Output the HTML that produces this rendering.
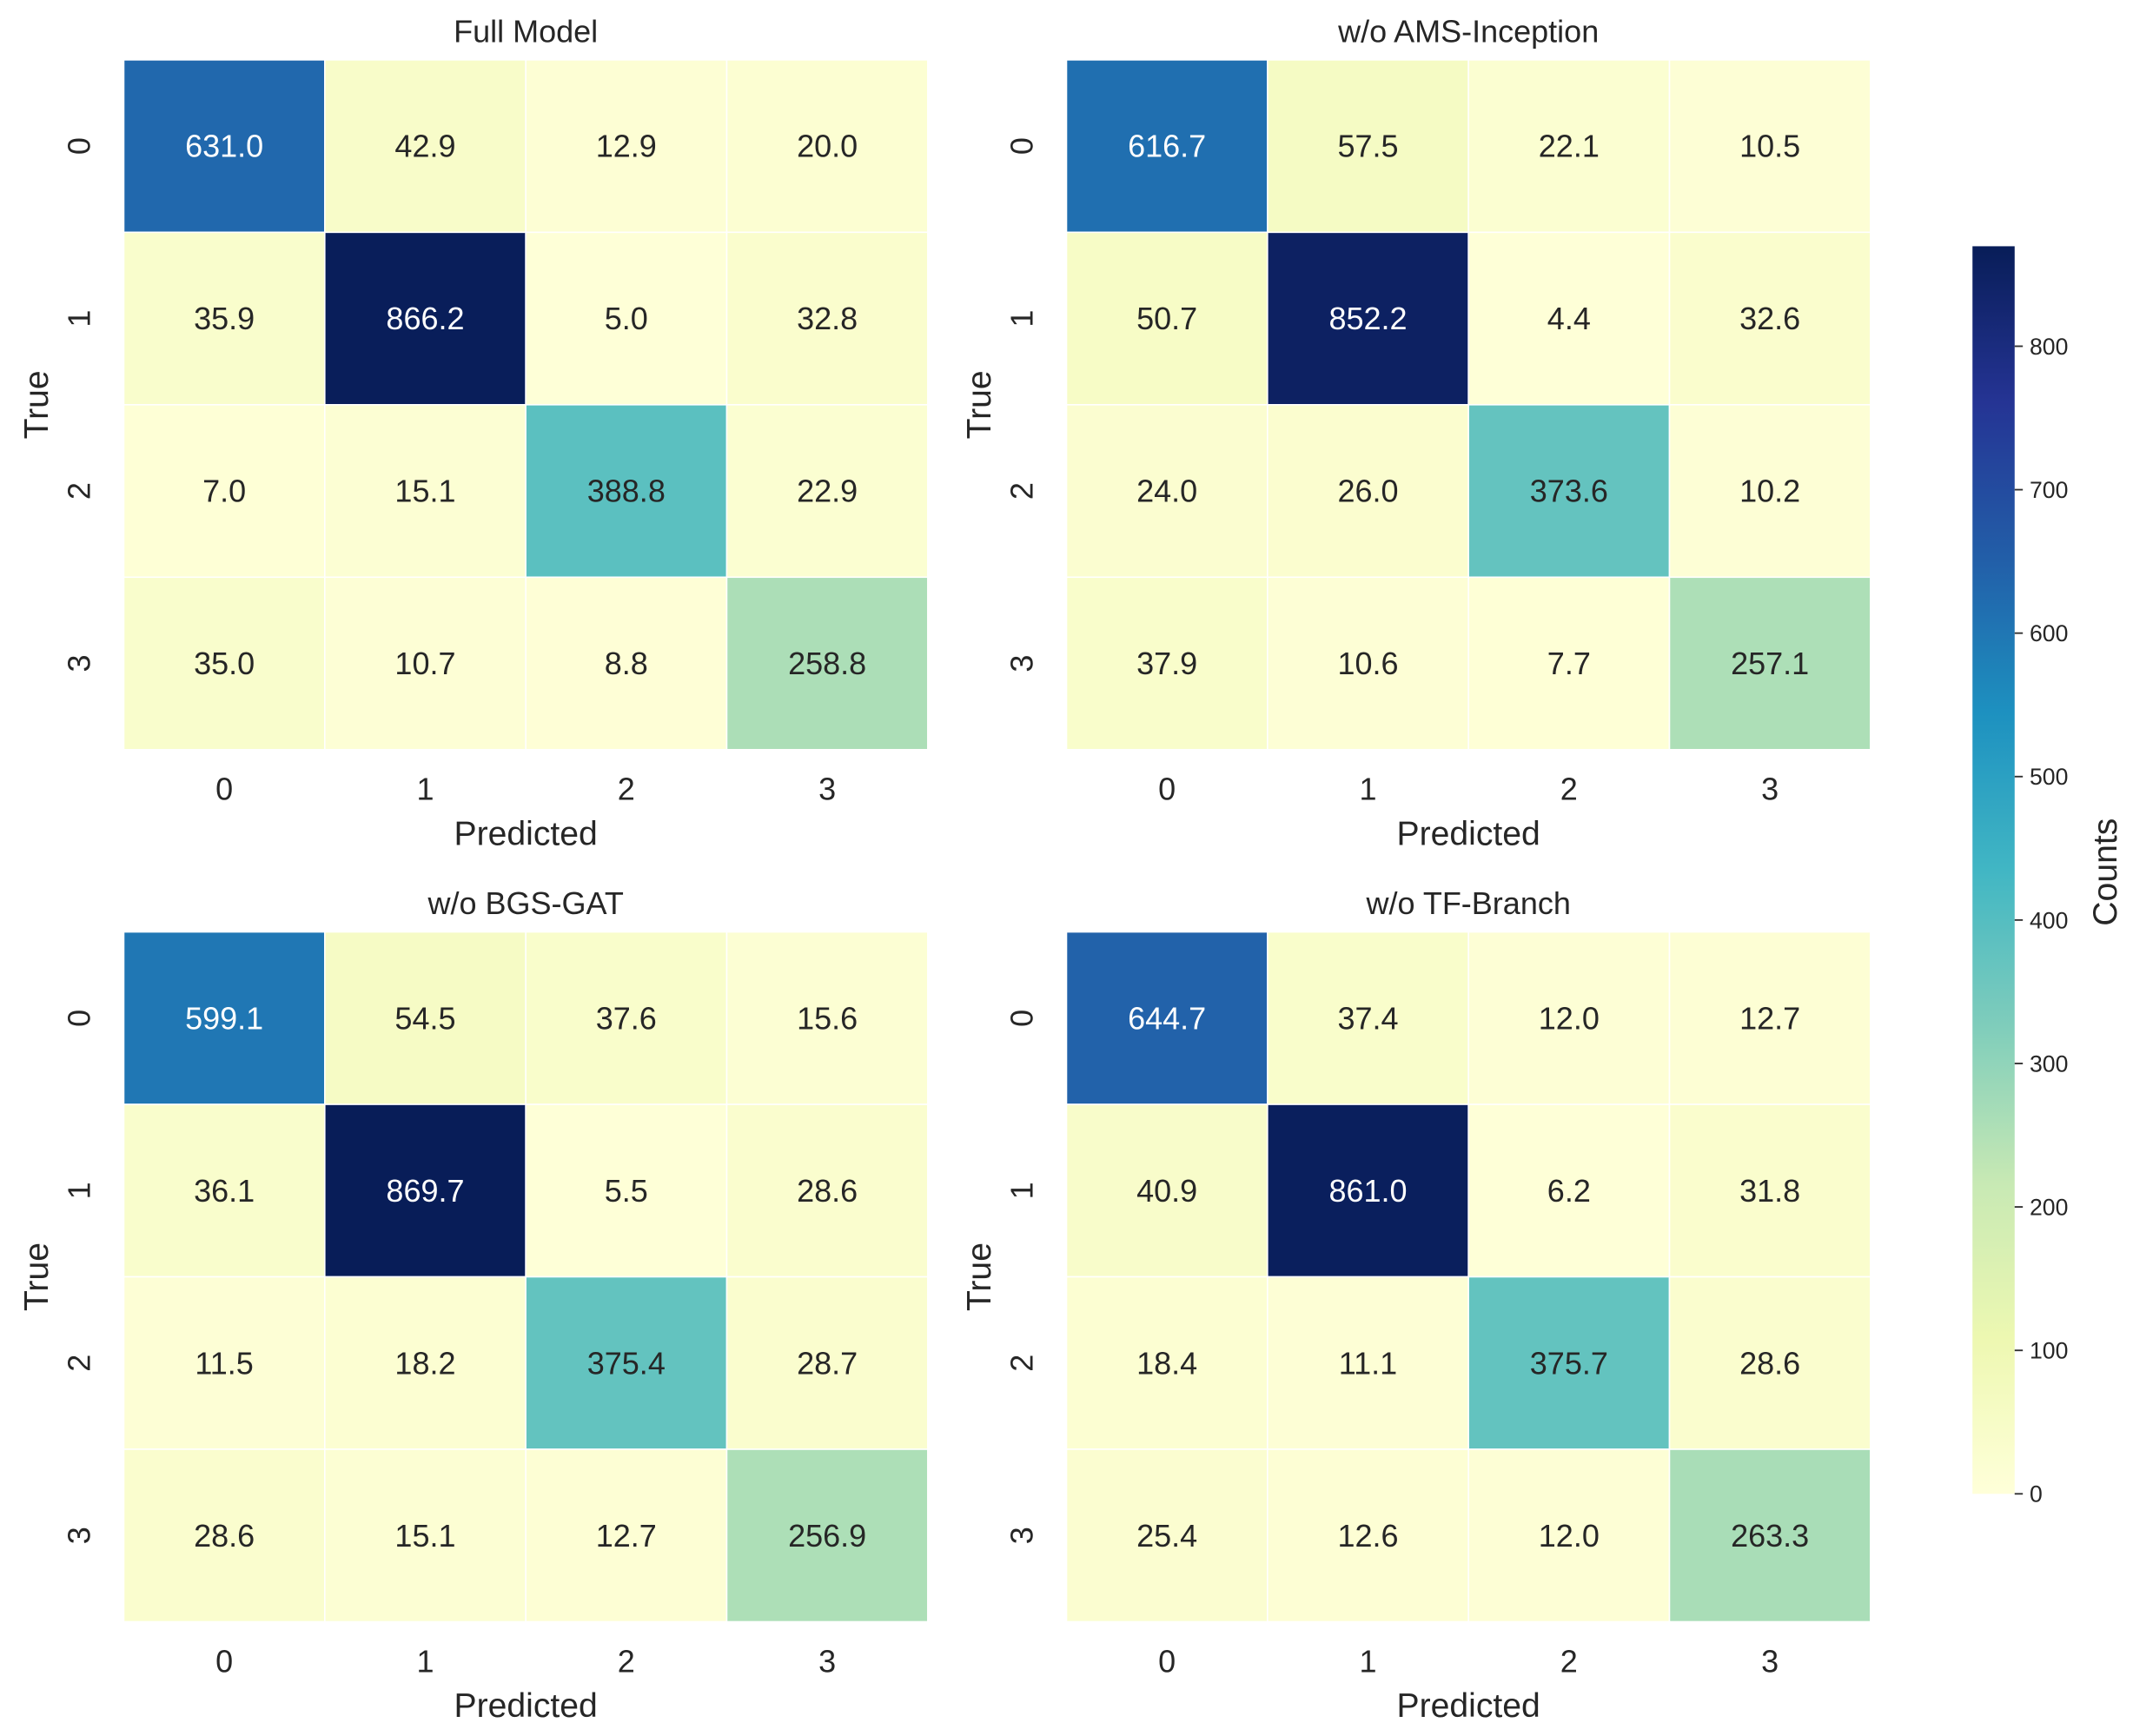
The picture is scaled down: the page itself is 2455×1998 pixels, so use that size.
<!DOCTYPE html>
<html><head><meta charset="utf-8">
<style>html,body{margin:0;padding:0;background:#fff}svg{display:block}text{font-family:"Liberation Sans",sans-serif}</style>
</head><body>
<svg id="fig" xmlns="http://www.w3.org/2000/svg" width="2455" height="1998" viewBox="0 0 1568 1276" preserveAspectRatio="none">
<defs><linearGradient id="cbgrad" x1="0" y1="1" x2="0" y2="0"></linearGradient></defs>
</svg>
<script>
const classes = [0, 1, 2, 3];
const titles = ["Full Model", "w/o AMS-Inception", "w/o BGS-GAT", "w/o TF-Branch"];
const fullModel = [[631.0,42.9,12.9,20.0],[35.9,866.2,5.0,32.8],[7.0,15.1,388.8,22.9],[35.0,10.7,8.8,258.8]];
const woAMS = [[616.7,57.5,22.1,10.5],[50.7,852.2,4.4,32.6],[24.0,26.0,373.6,10.2],[37.9,10.6,7.7,257.1]];
const woBGS = [[599.1,54.5,37.6,15.6],[36.1,869.7,5.5,28.6],[11.5,18.2,375.4,28.7],[28.6,15.1,12.7,256.9]];
const woTF = [[644.7,37.4,12.0,12.7],[40.9,861.0,6.2,31.8],[18.4,11.1,375.7,28.6],[25.4,12.6,12.0,263.3]];
const cbTicks = [0,100,200,300,400,500,600,700,800];
const vmin = 0, vmax = 869.7;

const NS = "http://www.w3.org/2000/svg";
const svg = document.getElementById("fig");
const stops = ["#ffffd9","#edf8b1","#c7e9b4","#7fcdbb","#41b6c4","#1d91c0","#225ea8","#253494","#081d58"];
function hex(h){return [parseInt(h.substr(1,2),16),parseInt(h.substr(3,2),16),parseInt(h.substr(5,2),16)];}
function cmap(v){
  let t=Math.max(0,Math.min(1,(v-vmin)/(vmax-vmin)))*(stops.length-1);
  let i=Math.min(stops.length-2,Math.floor(t)), f=t-i;
  const a=hex(stops[i]), b=hex(stops[i+1]);
  return a.map((x,k)=>Math.round(x+(b[k]-x)*f));
}
function lum(c){const l=c.map(x=>{x/=255;return x<=0.03928?x/12.92:Math.pow((x+0.055)/1.055,2.4);});return 0.2126*l[0]+0.7152*l[1]+0.0722*l[2];}
function mk(tag,attrs,parent){const e=document.createElementNS(NS,tag);for(const k in attrs)e.setAttribute(k,attrs[k]);(parent||svg).appendChild(e);return e;}

const matrices=[fullModel,woAMS,woBGS,woTF];
const panelX=[91,784,91,784], panelY=[44,44,685,685];
const W=591, H=507;
matrices.forEach((m,p)=>{
  const g=mk("g",{});
  
  
  const x0=panelX[p], y0=panelY[p], cw=W/classes.length, ch=H/classes.length;
  const xs=j=>x0+j*cw, ys=i=>y0+i*ch;
  const t=mk("text",{x:x0+W/2,y:y0-13,"text-anchor":"middle","font-size":"23",fill:"#262626"},g);
  t.textContent=titles[p];
  
  
  m.forEach((row,i)=>row.forEach((v,j)=>{
    const c=cmap(v);
    const r=mk("rect",{x:xs(j),y:ys(i),width:cw,height:ch,fill:`rgb(${c})`,stroke:"#fff","stroke-width":"1"},g);
    
    
    const tx=mk("text",{x:xs(j)+cw/2,y:ys(i)+ch/2+8,"text-anchor":"middle","font-size":"23",fill:lum(c)<0.408?"#fff":"#262626"},g);
    tx.textContent=v.toFixed(1);
    
    
  }));
  classes.forEach((c,k)=>{
    const a=mk("text",{x:xs(k)+cw/2,y:y0+H+37,"text-anchor":"middle","font-size":"23",fill:"#262626"},g);
    a.textContent=c;
    
    
    const yy=ys(k)+ch/2, xx=x0-33;
    const b=mk("text",{x:xx,y:yy,"text-anchor":"middle","font-size":"23",fill:"#262626",transform:`rotate(-90 ${xx} ${yy})`,dy:"8"},g);
    b.textContent=c;
    
    
  });
  const xl=mk("text",{x:x0+W/2,y:y0+H+70,"text-anchor":"middle","font-size":"25",fill:"#262626"},g);
  xl.textContent="Predicted";
  
  
  const lx=x0-56, ly=y0+H/2;
  const yl=mk("text",{x:lx,y:ly,"text-anchor":"middle","font-size":"25",fill:"#262626",transform:`rotate(-90 ${lx} ${ly})`},g);
  yl.textContent="True";
  
  
});

const grad=document.getElementById("cbgrad");
for(let k=0;k<=40;k++){const v=vmin+(vmax-vmin)*k/40;const c=cmap(v);mk("stop",{offset:(k/40),"stop-color":`rgb(${c})`},grad);}
const cbX=1450, cbW=31, cbTop=181, cbBot=1098;
const cy=v=>cbBot-(v-vmin)/(vmax-vmin)*(cbBot-cbTop);
const cb=mk("g",{});


mk("rect",{x:cbX,y:cbTop,width:cbW,height:cbBot-cbTop,fill:"url(#cbgrad)"},cb);
cbTicks.forEach(v=>{
  const y=cy(v);
  mk("line",{x1:cbX+cbW,x2:cbX+cbW+6,y1:y,y2:y,stroke:"#333","stroke-width":"1.2"},cb);
  const t=mk("text",{x:cbX+cbW+11,y:y+6,"font-size":"17",fill:"#262626"},cb);
  t.textContent=v;
  
  
});
const cl=mk("text",{x:1556,y:641,"text-anchor":"middle","font-size":"25",fill:"#262626",transform:"rotate(-90 1556 641)"},cb);
cl.textContent="Counts";


</script>
</body></html>
